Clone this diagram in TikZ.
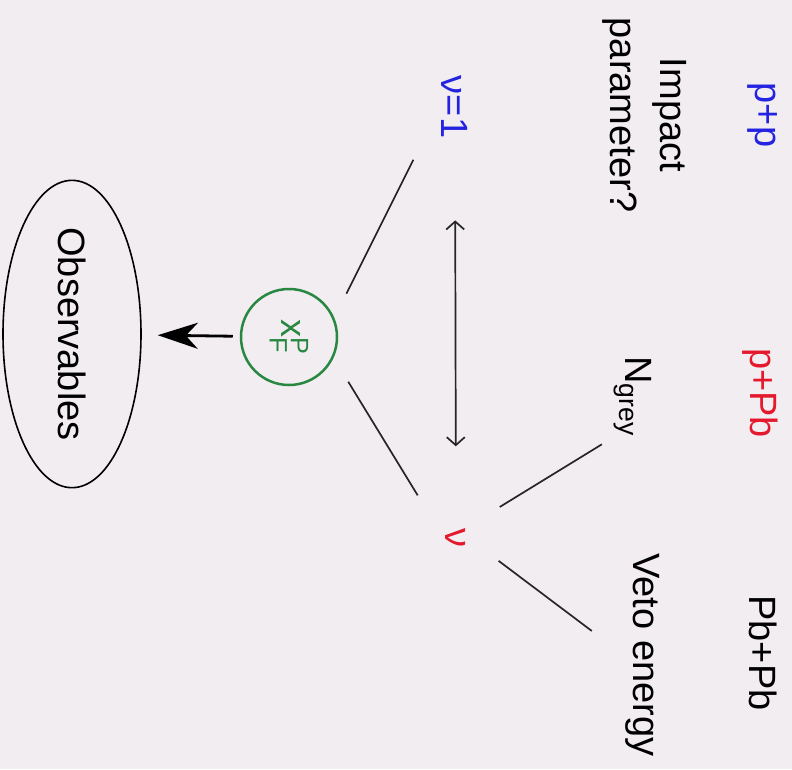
\documentclass[tikz,border=0pt]{standalone}
\usepackage{amsmath}
\usepackage{fontspec}
\setmainfont{Liberation Sans}
\usepackage{tikz}
\usetikzlibrary{shapes.geometric,arrows.meta}
\definecolor{bgpaper}{RGB}{241,237,241}
\definecolor{ppblue}{RGB}{35,35,225}
\definecolor{ppbred}{RGB}{228,25,45}
\definecolor{xfgreen}{RGB}{40,135,65}

\begin{document}
\begin{tikzpicture}[x=1pt,y=-1pt,
    lbl/.style={rotate=-90,inner sep=2pt,font=\fontsize{38}{50}\selectfont},
    conn/.style={line width=1.7pt,black!85}]
  \fill[bgpaper] (0,0) rectangle (792,769);
  \node[lbl,ppblue] (pp) at (763,115) {p+p};
  \node[lbl,ppbred] (ppb) at (760,393) {p+Pb};
  \node[lbl] (pbpb) at (763,653) {Pb+Pb};
  \node[lbl,align=center] (impact) at (645,115) {Impact\\parameter?};
  \node[lbl] (ngrey) at (633,396) {N$_\text{grey}$};
  \node[lbl] (veto) at (643,655) {Veto energy};
  \node[lbl,ppblue] (nu1) at (455,107) {ν=1};
  \node[lbl,ppbred] (nu) at (456,538) {ν};
  \node[lbl,circle,draw=xfgreen,line width=2.5pt,text=xfgreen,minimum size=96pt,
        font=\fontsize{36}{40}\selectfont] (xf) at (289,337) {$\text{x}_\text{F}^\text{P}$};
  \node[lbl,ellipse,draw,line width=1.6pt,minimum width=268pt,minimum height=138pt]
        (obs) at (72,334) {Observables};
  \draw[conn,shorten <=59pt,shorten >=27pt] (nu1.south) -- (xf.113);
  \draw[conn,shorten <=28pt,shorten >=50pt] (xf.65) -- (nu.south);
  \draw[conn,shorten <=37pt,shorten >=12pt] (nu.north west) -- (ngrey.south east);
  \draw[conn,shorten <=38pt,shorten >=40pt] (nu.north) -- (veto.south);
  \draw[conn,{Straight Barb[length=8pt,width=18pt]}-{Straight Barb[length=8pt,width=18pt]},
        shorten <=80pt,shorten >=80pt] (nu1.east) -- (nu.west);
  \draw[line width=2.8pt,-{Stealth[length=40pt,width=26pt,inset=12pt]},
        shorten <=7pt,shorten >=16pt] (xf) -- (obs);
\end{tikzpicture}
\end{document}
